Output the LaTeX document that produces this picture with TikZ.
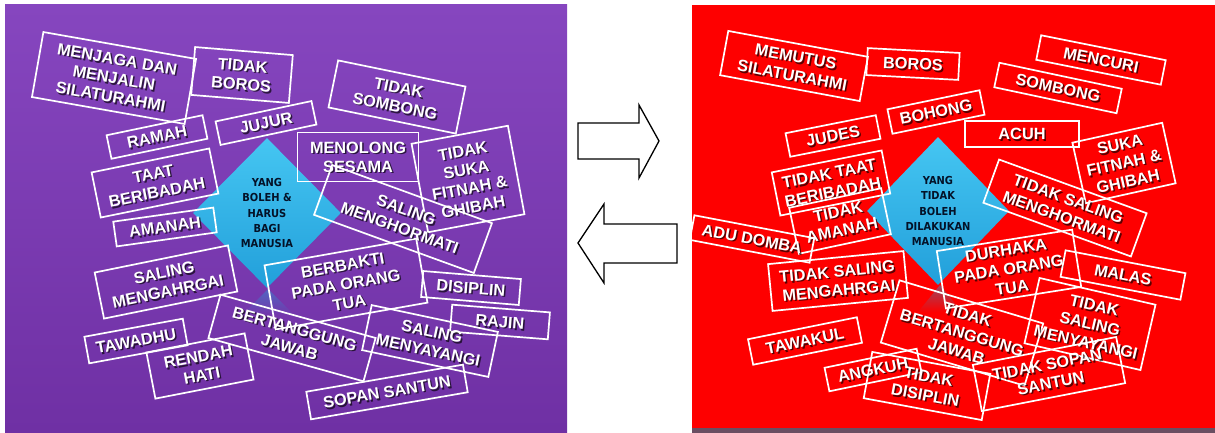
\documentclass[tikz,border=0pt]{standalone}
\usepackage{fontspec}
\setmainfont{Liberation Sans}
\newfontfamily\diafont{DejaVu Sans Condensed}
\usetikzlibrary{shapes.geometric,fadings}
\definecolor{purpTop}{HTML}{8646BF}
\definecolor{purpBot}{HTML}{6F30A4}
\definecolor{redbg}{HTML}{FE0000}
\definecolor{stripc}{HTML}{6A4E62}
\definecolor{diaTop}{HTML}{45C6F2}
\definecolor{diaBot}{HTML}{229FDA}
\definecolor{navy}{HTML}{041228}
\tikzset{
  tbox/.style={draw=white, line width=1.7pt, inner sep=0pt, align=center, text=white,
    font=\fontsize{16.3}{19}\selectfont\bfseries},
  tshadow/.style={inner sep=0pt, align=center, text=black, text opacity=0.65,
    font=\fontsize{16.3}{19}\selectfont\bfseries},
  dbox/.style={diamond, inner sep=0pt, align=center, text=navy,
    font=\diafont\fontsize{11}{15.2}\selectfont\bfseries, top color=diaTop, bottom color=diaBot},
  arrowshape/.style={draw=black, fill=white, line width=1.3pt, line join=miter}
}
% name, x, y, angle, width, height, text
\newcommand{\tb}[7]{%
  \node[tshadow, rotate=#4] (#1s) at (#2+1.5,#3+1.5) {#7};
  \node[tbox, rotate=#4, minimum width=#5pt, minimum height=#6pt] (#1) at (#2,#3) {#7};}
\begin{document}
\begin{tikzpicture}[x=1pt,y=-1pt]
\useasboundingbox (0,0) rectangle (1215,433);
% backgrounds
\shade[top color=purpTop, bottom color=purpBot] (5,5) rectangle (567,432);
\fill[redbg] (692,5) rectangle (1215,428);
\fill[stripc] (692,428) rectangle (1215,433);
% arrows
\draw[arrowshape] (578,123) -- (639,123) -- (639,105) -- (659,141) -- (639,178) -- (639,159) -- (578,159) -- cycle;
\draw[arrowshape] (677,224) -- (604,224) -- (604,204) -- (578,243) -- (604,283) -- (604,263) -- (677,263) -- cycle;
% left diamond + reflection
\fill[diaBot, opacity=0.45, path fading=south] (268,289) -- (294,315) -- (242,315) -- cycle;
\node[dbox, minimum width=148pt, minimum height=150pt] (dl) at (267,213) {YANG\\BOLEH \&\\HARUS\\BAGI\\MANUSIA};
% right diamond + reflection
\fill[diaBot, opacity=0.45, path fading=south] (940,285) -- (962,312) -- (918,312) -- cycle;
\node[dbox, minimum width=142pt, minimum height=148pt] (dr) at (938,211) {YANG\\TIDAK\\BOLEH\\DILAKUKAN\\MANUSIA};
% left boxes
\tb{l1}{114}{78}{-10}{155}{66}{MENJAGA DAN\\MENJALIN\\SILATURAHMI}
\tb{l2}{242}{75}{-4.7}{98}{48}{TIDAK\\BOROS}
\tb{l3}{157}{137}{11.8}{98}{24}{RAMAH}
\tb{l4}{266}{123}{12}{98}{24}{JUJUR}
\tb{l5}{155}{183}{11.5}{120}{46}{TAAT\\BERIBADAH}
\tb{l6}{165}{227}{8}{101}{25}{AMANAH}
\tb{l7}{166}{282}{11.5}{136}{47}{SALING\\MENGAHRGAI}
\tb{l8}{136}{341}{10.4}{100}{27}{TAWADHU}
\tb{l9}{200}{366}{11}{100}{47}{RENDAH\\HATI}
\tb{l10}{292}{338}{-15.6}{161}{45}{BERTANGGUNG\\JAWAB}
\tb{l11}{346}{284}{10}{154}{65}{BERBAKTI\\PADA ORANG\\TUA}
\tb{l12}{358}{157}{0}{121}{49}{MENOLONG\\SESAMA}
\tb{l13}{397}{97}{-11.6}{130}{48}{TIDAK\\SOMBONG}
\tb{l14}{468}{179}{10.6}{98}{90}{TIDAK\\SUKA\\FITNAH \&\\GHIBAH}
\tb{l15}{403}{219}{-20}{170}{53}{SALING\\MENGHORMATI}
\tb{l16}{471}{288}{-4.7}{98}{26}{DISIPLIN}
\tb{l17}{500}{322}{-4.5}{98}{27}{RAJIN}
\tb{l18}{430}{341}{-12}{129}{46}{SALING\\MENYAYANGI}
\tb{l19}{387}{392}{9.8}{159}{28}{SOPAN SANTUN}
% right boxes
\tb{r1}{794}{66}{-10.5}{142}{45}{MEMUTUS\\SILATURAHMI}
\tb{r2}{913}{64}{-3}{92}{27}{BOROS}
\tb{r3}{1101}{60}{-11.3}{127}{25}{MENCURI}
\tb{r4}{1058}{88}{-12}{125}{25}{SOMBONG}
\tb{r5}{936}{112}{11.7}{94}{25}{BOHONG}
\tb{r6}{1022}{134}{0}{114}{26}{ACUH}
\tb{r7}{833}{136}{11.3}{92}{24}{JUDES}
\tb{r8}{831}{183}{11.3}{112}{44}{TIDAK TAAT\\BERIBADAH}
\tb{r9}{1124}{163}{12.5}{92}{62}{SUKA\\FITNAH \&\\GHIBAH}
\tb{r10}{1065}{208}{-20}{157}{46}{TIDAK SALING\\MENGHORMATI}
\tb{r11}{840}{221}{12}{94}{47}{TIDAK\\AMANAH}
\tb{r12}{752}{239}{-10.8}{122}{25}{ADU DOMBA}
\tb{r13}{838}{281}{5.5}{136}{47}{TIDAK SALING\\MENGAHRGAI}
\tb{r14}{805}{341}{11.4}{111}{26}{TAWAKUL}
\tb{r15}{873}{370}{11.7}{94}{24}{ANGKUH}
\tb{r16}{927}{386}{-10.5}{120}{47}{TIDAK\\DISIPLIN}
\tb{r17}{962}{333}{-16.7}{150}{65}{TIDAK\\BERTANGGUNG\\JAWAB}
\tb{r18}{1009}{269}{9}{137}{58}{DURHAKA\\PADA ORANG\\TUA}
\tb{r19}{1123}{275}{-10.8}{122}{27}{MALAS}
\tb{r20}{1090}{324}{-13}{119}{67}{TIDAK\\SALING\\MENYAYANGI}
\tb{r21}{1049}{374}{11}{146}{47}{TIDAK SOPAN\\SANTUN}
\end{tikzpicture}
\end{document}
